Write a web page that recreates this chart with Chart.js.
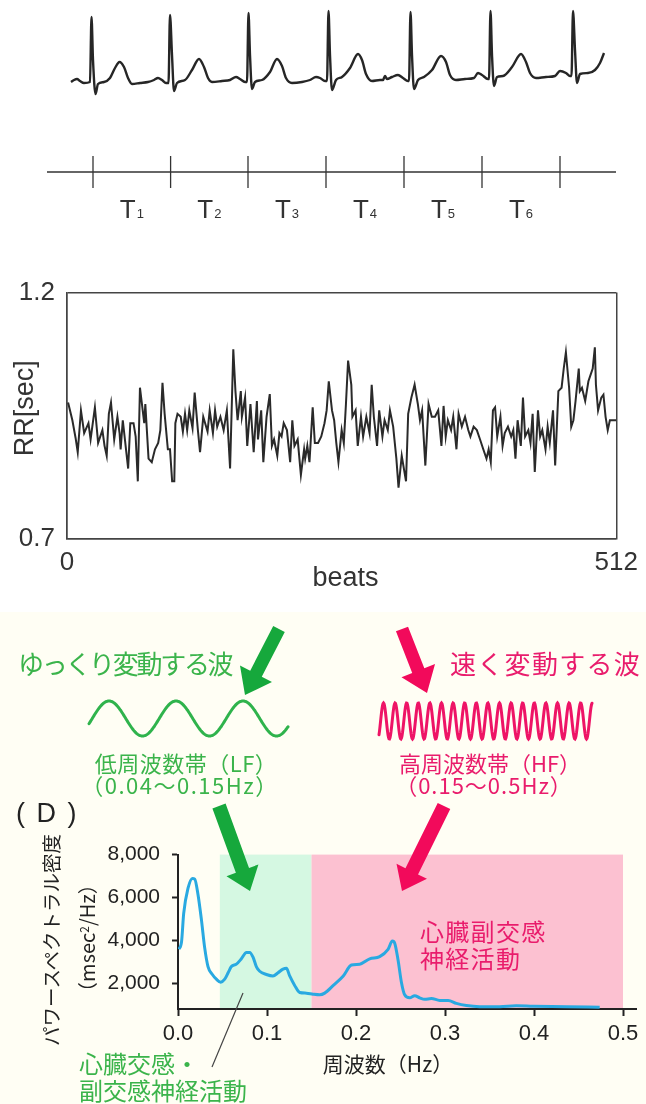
<!DOCTYPE html>
<html lang="ja">
<head>
<meta charset="utf-8">
<script src="https://cdn.jsdelivr.net/npm/chart.js@4.4.1/dist/chart.umd.min.js"></script>
<style>
  html, body { margin: 0; padding: 0; }
  body { width: 646px; height: 1104px; position: relative; overflow: hidden; background: #fff;
         font-family: "Noto Sans CJK JP", "Liberation Sans", sans-serif; }
  #panel { position: absolute; left: 0; top: 612px; width: 646px; height: 492px; background: #fffef4; }
  canvas { position: absolute; left: 0; }
  svg { position: absolute; left: 0; top: 0; }
  .lbl { position: absolute; white-space: nowrap; line-height: 1; transform: translateY(-50%); }
  .ctr { position: absolute; white-space: nowrap; line-height: 1; transform: translate(-50%, -50%); }
  .rot { position: absolute; white-space: nowrap; line-height: 1; transform: translate(-50%, -50%) rotate(-90deg); }
  .green { color: #3bb44b; }
  .pink { color: #e91c6c; }
  .dark { color: #222; }
</style>
</head>
<body>
<div id="panel"></div>
<canvas id="ecg" width="646" height="110" style="top:0"></canvas>
<canvas id="timeline" width="646" height="124" style="top:110px"></canvas>
<canvas id="rr" width="646" height="335" style="top:265px"></canvas>
<canvas id="psd" width="646" height="274" style="top:830px"></canvas>
<svg id="deco" width="646" height="1104"></svg>

<div class="lbl green" style="left:18px; top:663px; font-size:26px; letter-spacing:-2.3px;">ゆっくり変動する波</div>
<div class="lbl pink" style="left:450px; top:663px; font-size:26px; letter-spacing:1.3px;">速く変動する波</div>
<div class="ctr green" style="left:186px; top:762px; font-size:22px; letter-spacing:0.5px;">低周波数帯（LF）</div>
<div class="ctr green" style="left:180px; top:784px; font-size:22px; letter-spacing:1.5px;">（0.04〜0.15Hz）</div>
<div class="ctr pink" style="left:490px; top:762px; font-size:22px;">高周波数帯（HF）</div>
<div class="ctr pink" style="left:484px; top:784px; font-size:22px; letter-spacing:1px;">（0.15〜0.5Hz）</div>
<div class="lbl dark" style="left:16px; top:813px; font-size:27px; letter-spacing:2px; font-family:'Liberation Sans', sans-serif;">( D )</div>
<div class="rot dark" style="left:51px; top:940px; font-size:19.5px;">パワースペクトラル密度</div>
<div class="rot dark" style="left:87px; top:938px; font-size:20px;">（msec<sup style="font-size:12px; vertical-align:6px;">2</sup>/Hz）</div>
<div class="lbl pink" style="left:420px; top:931px; font-size:24px; letter-spacing:1.3px;">心臓副交感</div>
<div class="lbl pink" style="left:420px; top:958px; font-size:24px; letter-spacing:1.3px;">神経活動</div>
<div class="ctr dark" style="left:388px; top:1063px; font-size:21px;">周波数（Hz）</div>
<div class="lbl green" style="left:79px; top:1063px; font-size:24px;">心臓交感・</div>
<div class="lbl green" style="left:79px; top:1090px; font-size:24px;">副交感神経活動</div>

<script>
// ---- ECG trace (time in s, amplitude in mV) ----
const ecgTime = [
  0.24, 0.27, 0.30, 0.33, 0.37, 0.43, 0.445, 0.46, 0.485, 0.51, 0.57, 0.63, 0.68, 0.725, 0.77, 0.81, 0.85, 0.93, 1.01, 1.07, 1.11, 1.15, 1.19,
  1.215, 1.23, 1.25, 1.27, 1.30, 1.38, 1.45, 1.52, 1.57, 1.61, 1.65, 1.75, 1.83, 1.89, 1.93, 1.98,
  2.00, 2.015, 2.03, 2.05, 2.08, 2.15, 2.23, 2.30, 2.35, 2.39, 2.45, 2.55, 2.63, 2.69, 2.73, 2.78,
  2.80, 2.815, 2.83, 2.85, 2.89, 2.95, 3.03, 3.11, 3.15, 3.19, 3.25, 3.33, 3.36, 3.38, 3.40, 3.45, 3.51, 3.56, 3.61,
  3.62, 3.635, 3.65, 3.67, 3.71, 3.77, 3.85, 3.94, 3.99, 4.03, 4.09, 4.18, 4.27, 4.31, 4.35, 4.41,
  4.42, 4.435, 4.45, 4.47, 4.50, 4.56, 4.65, 4.74, 4.79, 4.83, 4.89, 4.99, 5.08, 5.13, 5.19, 5.23,
  5.245, 5.26, 5.28, 5.30, 5.33, 5.41, 5.48, 5.53, 5.57
];
const ecgMv = [
  0.02, 0.06, 0.08, 0.04, 0, 0.02, 1.32, 0.46, -0.22, -0.02, 0.02, 0.10, 0.30, 0.42, 0.32, 0.10, -0.02, 0, 0.02, 0.06, 0.10, 0.06, 0,
  0, 1.36, 0.56, -0.16, 0, 0.06, 0.26, 0.48, 0.32, 0.10, 0.02, 0.04, 0.06, 0.12, 0.08, 0.02,
  0.02, 1.40, 0.56, -0.12, 0.02, 0.06, 0.22, 0.48, 0.34, 0.10, 0, 0.02, 0.06, 0.12, 0.10, 0.04,
  0.04, 1.44, 0.56, -0.14, 0.06, 0.12, 0.30, 0.58, 0.46, 0.18, 0.04, 0.06, 0.06, 0.14, 0.08, 0.12, 0.16, 0.10, 0.04,
  0.04, 1.42, 0.56, -0.12, 0.06, 0.12, 0.26, 0.54, 0.42, 0.16, 0.06, 0.08, 0.10, 0.20, 0.16, 0.08,
  0.08, 1.44, 0.56, -0.06, 0.12, 0.14, 0.32, 0.58, 0.42, 0.20, 0.10, 0.12, 0.14, 0.24, 0.20, 0.14,
  0.14, 1.44, 0.66, 0, 0.18, 0.20, 0.26, 0.40, 0.60
];

// ---- RR interval timeline ----
const beatMarks = [0.46, 1.236, 2.01, 2.79, 3.57, 4.35, 5.13];
const intervalLabels = ['T1', 'T2', 'T3', 'T4', 'T5', 'T6'];
const timelineRange = [0, 5.69];

// ---- RR tachogram ----
const rrBeats = [
  1, 5, 8, 10, 13, 16, 20, 22, 26, 29,
  33, 35, 37, 39, 41, 44, 47, 49, 50, 52,
  55, 57, 59, 62, 64, 66, 68, 72, 73, 76,
  79, 82, 85, 87, 89, 91, 94, 96, 98, 100,
  101, 103, 106, 108, 110, 112, 114, 117, 119, 122,
  124, 127, 131, 133, 136, 138, 140, 143, 146, 149,
  152, 155, 157, 159, 162, 163, 166, 168, 171, 174,
  177, 178, 181, 183, 186, 189, 191, 193, 196, 198,
  200, 202, 205, 208, 210, 212, 215, 218, 221, 222,
  224, 226, 229, 231, 234, 237, 240, 242, 244, 247,
  249, 251, 253, 256, 258, 260, 262, 265, 266, 269,
  271, 274, 276, 279, 282, 284, 286, 289, 291, 294,
  296, 299, 301, 304, 307, 309, 312, 316, 318, 321,
  324, 327, 329, 331, 334, 337, 340, 343, 346, 349,
  351, 353, 355, 358, 360, 363, 365, 368, 371, 374,
  376, 379, 382, 385, 388, 391, 393, 395, 397, 399,
  401, 404, 406, 408, 411, 414, 416, 418, 420, 423,
  425, 427, 430, 432, 434, 436, 439, 441, 443, 446,
  448, 450, 453, 455, 458, 461, 463, 465, 468, 470,
  472, 474, 477, 478, 480, 483, 486, 488, 490, 492,
  493, 495, 498, 500, 502, 504, 506, 509, 512
];
const rrSeconds = [
  0.977, 0.941, 0.905, 0.876, 0.961, 0.915, 0.935, 0.902, 0.967, 0.895,
  0.921, 0.889, 0.869, 0.954, 0.977, 0.902, 0.948, 0.915, 0.882, 0.941,
  0.882, 0.843, 0.935, 0.935, 0.908, 0.817, 1.007, 0.935, 0.974, 0.863,
  0.856, 0.882, 0.895, 0.921, 1.017, 0.954, 0.882, 0.882, 0.817, 0.817,
  0.935, 0.954, 0.948, 0.918, 0.954, 0.921, 0.961, 0.925, 0.997, 0.921,
  0.876, 0.948, 0.918, 0.961, 0.915, 0.961, 0.928, 0.948, 0.921, 0.961,
  0.843, 1.085, 1.000, 0.941, 1.000, 0.948, 0.987, 0.889, 0.974, 0.876,
  0.980, 0.902, 0.961, 0.856, 0.948, 0.994, 0.889, 0.902, 0.869, 0.915,
  0.908, 0.935, 0.921, 0.856, 0.941, 0.889, 0.902, 0.830, 0.882, 0.863,
  0.889, 0.856, 0.967, 0.895, 0.895, 0.908, 0.935, 0.961, 1.020, 0.961,
  0.941, 0.895, 0.856, 0.921, 0.895, 0.974, 1.062, 1.013, 0.948, 0.961,
  0.889, 0.948, 0.908, 0.948, 0.915, 1.013, 0.948, 0.889, 0.961, 0.908,
  0.941, 0.921, 0.961, 0.928, 0.863, 0.804, 0.869, 0.817, 0.954, 0.987,
  1.013, 0.974, 0.941, 0.961, 0.849, 0.974, 0.948, 0.948, 0.961, 0.889,
  0.970, 0.908, 0.941, 0.921, 0.948, 0.882, 0.954, 0.928, 0.948, 0.921,
  0.908, 0.928, 0.921, 0.902, 0.882, 0.863, 0.882, 0.856, 0.961, 0.967,
  0.908, 0.948, 0.889, 0.915, 0.928, 0.908, 0.921, 0.863, 0.941, 0.889,
  0.987, 0.908, 0.921, 0.895, 0.954, 0.836, 0.961, 0.908, 0.921, 0.882,
  0.928, 0.895, 0.961, 0.849, 1.000, 1.007, 1.046, 1.079, 1.007, 0.928,
  0.941, 0.980, 1.046, 1.000, 1.007, 0.980, 1.020, 1.033, 1.046, 1.089,
  1.013, 0.961, 0.987, 0.993, 0.948, 0.921, 0.941, 0.941, 0.941
];
const rrXTicks = [0, 512];
const rrYTicks = [0.7, 1.2];

// ---- power spectral density ----
const psdFreq = [
  0.001, 0.004, 0.0064, 0.0112, 0.0162, 0.0188, 0.0225, 0.0263, 0.030, 0.0337,
  0.0386, 0.0431, 0.048, 0.0525, 0.0563, 0.060, 0.0656, 0.0712, 0.0769, 0.0806,
  0.0843, 0.088, 0.0918, 0.0993, 0.1067, 0.1124, 0.118, 0.1218, 0.1255, 0.1311,
  0.1367, 0.1443, 0.1517, 0.1593, 0.1648, 0.1745, 0.1857, 0.1948, 0.2042, 0.2154,
  0.2266, 0.236, 0.2409, 0.2435, 0.2473, 0.251, 0.2547, 0.2603, 0.266, 0.2716,
  0.2772, 0.2847, 0.2941, 0.3035, 0.3128, 0.324, 0.339, 0.3614, 0.38, 0.399,
  0.4364, 0.4738
];
const psdPower = [
  3580, 3940, 5260, 6420, 6890, 6860, 6130, 4970, 3650, 2780,
  2410, 2190, 2050, 2190, 2490, 2780, 2890, 3140, 3440, 3440,
  3220, 2780, 2560, 2410, 2340, 2490, 2660, 2700, 2340, 1900,
  1570, 1540, 1490, 1460, 1540, 1900, 2340, 2850, 2890, 3140,
  3240, 3580, 3970, 3870, 3070, 2050, 1460, 1320, 1420, 1320,
  1250, 1290, 1200, 1200, 1060, 960, 910, 910, 950, 930,
  910, 880
];
const psdXTicks = [0, 0.1, 0.2, 0.3, 0.4, 0.5];
const psdYTicks = [2000, 4000, 6000, 8000];
const bandFrom = [0.047, 0.15];
const bandTo = [0.15, 0.5];
const bandColors = ['#d5f8e2', '#fcc1d1'];

const sansFont = '"Liberation Sans", Arial, sans-serif';
const baseOptions = {
  responsive: false,
  animation: false,
  devicePixelRatio: 1,
  plugins: { legend: { display: false }, tooltip: { enabled: false } }
};

// ECG
new Chart(document.getElementById('ecg'), {
  type: 'line',
  data: {
    datasets: [{
      data: ecgTime.map((t, i) => ({ x: t, y: ecgMv[i] })),
      borderColor: '#262626',
      borderWidth: 2.4,
      pointRadius: 0,
      cubicInterpolationMode: 'monotone',
      clip: false
    }]
  },
  options: {
    ...baseOptions,
    layout: { padding: 0, autoPadding: false },
    scales: {
      x: { type: 'linear', display: false, min: -0.47, max: 5.99 },
      y: { display: false, min: -0.54, max: 1.66 }
    }
  }
});

// timeline with T labels
const intervalLabelPlugin = {
  id: 'intervalLabels',
  afterDatasetsDraw(chart) {
    const { ctx, scales: { x } } = chart;
    ctx.save();
    ctx.fillStyle = '#333';
    ctx.textBaseline = 'alphabetic';
    intervalLabels.forEach((lab, i) => {
      const mid = (x.getPixelForValue(beatMarks[i]) + x.getPixelForValue(beatMarks[i + 1])) / 2;
      const main = lab.charAt(0), sub = lab.slice(1);
      ctx.font = '26px ' + sansFont;
      const w1 = ctx.measureText(main).width;
      ctx.font = '13px ' + sansFont;
      const w2 = ctx.measureText(sub).width;
      const left = mid - (w1 + 1 + w2) / 2;
      ctx.font = '26px ' + sansFont;
      ctx.fillText(main, left, 108);
      ctx.font = '13px ' + sansFont;
      ctx.fillText(sub, left + w1 + 1, 108);
    });
    ctx.restore();
  }
};

new Chart(document.getElementById('timeline'), {
  type: 'line',
  data: {
    datasets: [
      {
        data: timelineRange.map(t => ({ x: t, y: 0 })),
        borderColor: '#333', borderWidth: 1.5, pointRadius: 0
      },
      {
        data: beatMarks.map(t => ({ x: t, y: 0 })),
        showLine: false,
        pointStyle: 'line', pointRadius: 16, pointRotation: 90,
        pointBorderColor: '#333', pointBorderWidth: 1.3
      }
    ]
  },
  options: {
    ...baseOptions,
    layout: { padding: 0, autoPadding: false },
    scales: {
      x: { type: 'linear', display: false, min: -0.47, max: 5.99 },
      y: { display: false, min: -1, max: 1 }
    }
  },
  plugins: [intervalLabelPlugin]
});

// RR tachogram
new Chart(document.getElementById('rr'), {
  type: 'line',
  data: {
    datasets: [{
      data: rrBeats.map((b, i) => ({ x: b, y: rrSeconds[i] })),
      borderColor: '#2a2a2a', borderWidth: 2, pointRadius: 0, tension: 0
    }]
  },
  options: {
    ...baseOptions,
    layout: { padding: { top: 20, right: 27, left: 0, bottom: 0 }, autoPadding: false },
    scales: {
      x: {
        type: 'linear', min: 0, max: 512,
        afterBuildTicks: s => { s.ticks = rrXTicks.map(v => ({ value: v })); },
        afterFit: s => { s.height = 61; },
        grid: { color: '#444', lineWidth: 1.5, drawTicks: false },
        border: { color: '#444', width: 1.5 },
        ticks: { padding: 8, color: '#333', maxRotation: 0, font: { family: sansFont, size: 26 }, callback: v => String(v) },
        title: { display: true, text: ' beats', color: '#333', font: { family: sansFont, size: 27 }, padding: { top: 0, bottom: 5 } }
      },
      y: {
        min: 0.7, max: 1.2,
        afterBuildTicks: s => { s.ticks = rrYTicks.map(v => ({ value: v })); },
        afterFit: s => { s.width = 67; },
        grid: { color: '#444', lineWidth: 1.5, drawTicks: false },
        border: { color: '#444', width: 1.5 },
        ticks: { padding: 12, color: '#333', font: { family: sansFont, size: 26 }, callback: v => v.toFixed(1) },
        title: { display: true, text: '  RR[sec]', color: '#333', font: { family: sansFont, size: 27 }, padding: { top: 9, bottom: 0 } }
      }
    }
  }
});

// PSD with LF / HF bands
const bandPlugin = {
  id: 'bands',
  beforeDraw(chart) {
    const { ctx, chartArea, scales: { x, y } } = chart;
    ctx.save();
    bandFrom.forEach((from, i) => {
      const x0 = x.getPixelForValue(from), x1 = x.getPixelForValue(bandTo[i]);
      const y0 = y.getPixelForValue(psdYTicks[psdYTicks.length - 1]);
      ctx.fillStyle = bandColors[i];
      ctx.fillRect(x0, y0, x1 - x0, chartArea.bottom - y0);
    });
    ctx.restore();
  }
};

new Chart(document.getElementById('psd'), {
  type: 'line',
  data: {
    datasets: [{
      data: psdFreq.map((f, i) => ({ x: f, y: psdPower[i] })),
      borderColor: '#29a9e1', borderWidth: 3, pointRadius: 0,
      cubicInterpolationMode: 'monotone'
    }]
  },
  options: {
    ...baseOptions,
    layout: { padding: { top: 14, right: 10, left: 0, bottom: 0 }, autoPadding: false },
    scales: {
      x: {
        type: 'linear', min: 0, max: 0.5146,
        afterBuildTicks: s => { s.ticks = psdXTicks.map(v => ({ value: v })); },
        afterFit: s => { s.height = 95; },
        grid: { drawOnChartArea: false, drawTicks: true, tickLength: 7, tickColor: '#222', tickWidth: 2 },
        border: { color: '#222', width: 2 },
        ticks: { padding: 5, color: '#222', maxRotation: 0, font: { family: sansFont, size: 22 }, callback: v => v.toFixed(1) }
      },
      y: {
        min: 800, max: 8000,
        afterBuildTicks: s => { s.ticks = psdYTicks.map(v => ({ value: v })); },
        afterFit: s => { s.width = 178; },
        grid: { drawOnChartArea: false, drawTicks: true, tickLength: 6, tickColor: '#222', tickWidth: 2 },
        border: { color: '#222', width: 2 },
        ticks: { padding: 12, color: '#222', font: { family: sansFont, size: 21 }, callback: v => v.toLocaleString('en-US') }
      }
    }
  },
  plugins: [bandPlugin]
});

// decorations: arrows, illustrative waves, leader line
const svg = document.getElementById('deco');
const NS = 'http://www.w3.org/2000/svg';
function add(tag, attrs) {
  const el = document.createElementNS(NS, tag);
  for (const k in attrs) el.setAttribute(k, attrs[k]);
  svg.appendChild(el);
}
function arrow(x1, y1, x2, y2, w, hl, hw, color) {
  const dx = x2 - x1, dy = y2 - y1, L = Math.hypot(dx, dy);
  const ux = dx / L, uy = dy / L, px = -uy, py = ux;
  const bx = x2 - ux * hl, by = y2 - uy * hl;
  const pts = [
    [x1 + px * w / 2, y1 + py * w / 2], [bx + px * w / 2, by + py * w / 2], [bx + px * hw / 2, by + py * hw / 2],
    [x2, y2],
    [bx - px * hw / 2, by - py * hw / 2], [bx - px * w / 2, by - py * w / 2], [x1 - px * w / 2, y1 - py * w / 2]
  ];
  add('polygon', { points: pts.map(p => p.join(',')).join(' '), fill: color });
}
function wave(x0, x1, cy, amp, period, peakAt, color) {
  let d = '';
  for (let x = x0; x <= x1; x += 0.5) {
    const y = cy - amp * Math.cos(2 * Math.PI * (x - peakAt) / period);
    d += (d ? 'L' : 'M') + x.toFixed(1) + ',' + y.toFixed(2);
  }
  add('path', { d, fill: 'none', stroke: color, 'stroke-width': 3, 'stroke-linecap': 'round' });
}
wave(89, 288, 718.5, 17.5, 67, 109, '#2fb34c');
wave(379, 592, 721, 18, 11.6, 383.5, '#ee1466');
arrow(279, 629, 245, 695, 13, 24, 36, '#16a83c');
arrow(402, 629, 427, 693, 13, 24, 36, '#f20a5b');
arrow(219, 806, 250, 891, 14, 22, 34, '#16a83c');
arrow(444, 806, 402, 891, 14, 22, 34, '#f20a5b');
add('line', { x1: 212, y1: 1067, x2: 243, y2: 993, stroke: '#444', 'stroke-width': 1.2 });
</script>
</body>
</html>
